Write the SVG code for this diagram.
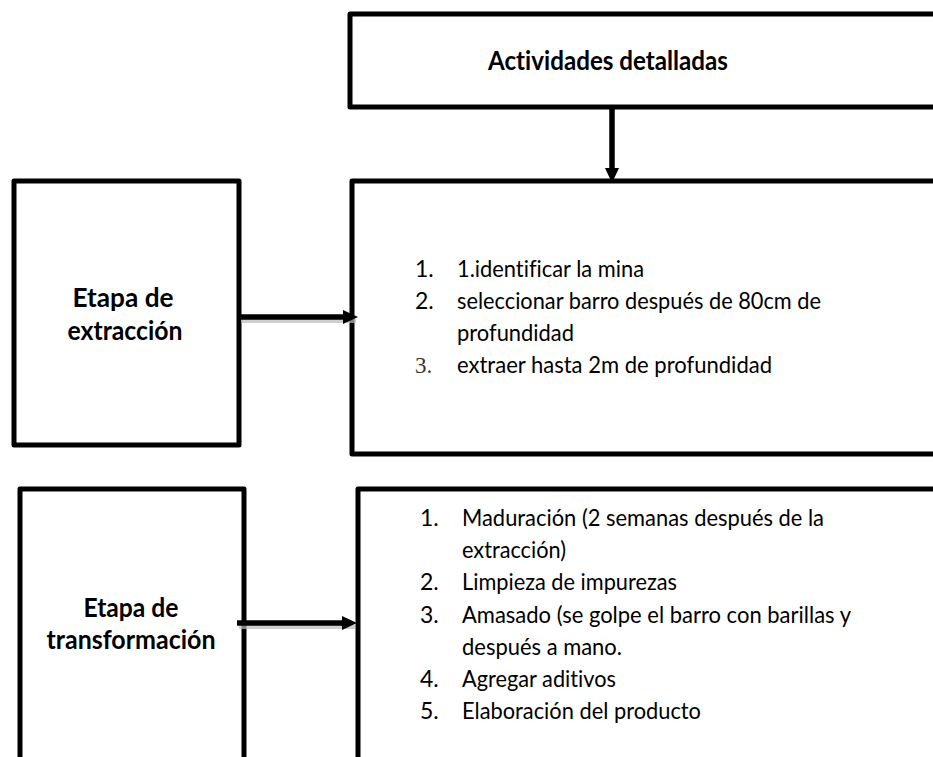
<svg xmlns="http://www.w3.org/2000/svg" width="933" height="757" viewBox="0 0 933 757">
<style>
text{font-variant-ligatures:none}
.box{fill:#fff;stroke:#000;stroke-width:5;stroke-linejoin:round}
.lbl{font-family:Lato,"Open Sans",sans-serif;font-weight:bold;font-size:26px;fill:#000;text-anchor:middle}
.li{font-family:Lato,"Open Sans",sans-serif;font-size:23px;fill:#000}
.ln{stroke:#000;stroke-width:5.5;fill:none}
.sh{stroke:#bbb;stroke-width:4;fill:none;opacity:0.7}
</style>
<rect width="933" height="757" fill="#fff"/>
<g id="title">
<rect class="box" x="350" y="14" width="600" height="93"/>
<text class="lbl" x="608" y="70" font-size="27" textLength="240" lengthAdjust="spacingAndGlyphs">Actividades detalladas</text>
</g>
<g id="extraccion">
<rect class="box" x="14" y="181" width="225" height="264"/>
<text class="lbl" x="123" y="307" textLength="101" lengthAdjust="spacingAndGlyphs">Etapa de</text>
<text class="lbl" x="125" y="340" textLength="115" lengthAdjust="spacingAndGlyphs">extracción</text>
</g>
<g id="actividades-extraccion">
<rect class="box" x="352" y="181" width="600" height="273"/>
<text class="li" x="415" y="277">1.</text>
<text class="li" x="457" y="277" textLength="187" lengthAdjust="spacingAndGlyphs">1.identificar la mina</text>
<text class="li" x="415" y="309">2.</text>
<text class="li" x="457" y="309" textLength="364" lengthAdjust="spacingAndGlyphs">seleccionar barro después de 80cm de</text>
<text class="li" x="457" y="341" textLength="117" lengthAdjust="spacingAndGlyphs">profundidad</text>
<text class="li" x="415" y="373" style="font-family:'Liberation Serif',serif;fill:#333">3.</text>
<text class="li" x="457" y="373" textLength="315" lengthAdjust="spacingAndGlyphs">extraer hasta 2m de profundidad</text>
</g>
<g id="transformacion">
<rect class="box" x="20" y="489" width="224" height="300"/>
<text class="lbl" x="131" y="617" textLength="95" lengthAdjust="spacingAndGlyphs">Etapa de</text>
<text class="lbl" x="131" y="649" textLength="169" lengthAdjust="spacingAndGlyphs">transformación</text>
</g>
<g id="actividades-transformacion">
<rect class="box" x="358" y="489" width="600" height="300"/>
<text class="li" x="420" y="526">1.</text>
<text class="li" x="462" y="526" textLength="362" lengthAdjust="spacingAndGlyphs">Maduración (2 semanas después de la</text>
<text class="li" x="462" y="558" textLength="104" lengthAdjust="spacingAndGlyphs">extracción)</text>
<text class="li" x="420" y="590">2.</text>
<text class="li" x="462" y="590" textLength="215" lengthAdjust="spacingAndGlyphs">Limpieza de impurezas</text>
<text class="li" x="420" y="623">3.</text>
<text class="li" x="462" y="623" textLength="389" lengthAdjust="spacingAndGlyphs">Amasado (se golpe el barro con barillas y</text>
<text class="li" x="462" y="655" textLength="160" lengthAdjust="spacingAndGlyphs">después a mano.</text>
<text class="li" x="420" y="687">4.</text>
<text class="li" x="462" y="687" textLength="154" lengthAdjust="spacingAndGlyphs">Agregar aditivos</text>
<text class="li" x="420" y="719">5.</text>
<text class="li" x="462" y="719" textLength="239" lengthAdjust="spacingAndGlyphs">Elaboración del producto</text>
</g>
<g id="connectors">
<line class="sh" x1="241" y1="321" x2="356" y2="321"/>
<line class="sh" x1="239" y1="627" x2="355" y2="627"/>
<line class="ln" x1="612" y1="109" x2="612" y2="170"/>
<polygon points="605,168 619,168 612,183" fill="#000"/>
<line class="ln" x1="239" y1="317" x2="345" y2="317"/>
<polygon points="343,310 343,324 358,317" fill="#000"/>
<line class="ln" x1="237" y1="623" x2="344" y2="623"/>
<polygon points="342,616 342,630 357,623" fill="#000"/>
</g>
</svg>
